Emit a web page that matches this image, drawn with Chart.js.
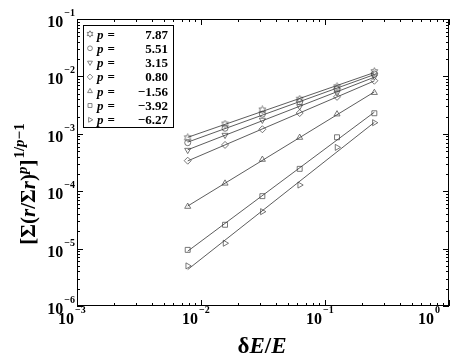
<!DOCTYPE html>
<html><head><meta charset="utf-8">
<script src="https://cdn.jsdelivr.net/npm/chart.js@4/dist/chart.umd.min.js"></script>
<style>html,body{margin:0;padding:0;background:#fff}</style>
</head><body>
<canvas id="c" width="463" height="363" style="width:463px;height:363px;display:block"></canvas>
<script>
// ---- data ----
const xValues = [0.0078125, 0.015625, 0.03125, 0.0625, 0.125, 0.25];
const pLabels = ['7.87', '5.51', '3.15', '0.80', '\u22121.56', '\u22123.92', '\u22126.27'];
const yP787  = [8.5e-4, 1.48e-3, 2.6e-3, 4.0e-3, 6.6e-3, 1.21e-2];
const yP551  = [7.0e-4, 1.25e-3, 2.2e-3, 3.6e-3, 6.0e-3, 1.10e-2];
const yP315  = [5.2e-4, 9.5e-4, 1.74e-3, 3.0e-3, 5.2e-3, 9.9e-3];
const yP080  = [3.4e-4, 6.4e-4, 1.2e-3, 2.3e-3, 4.4e-3, 8.4e-3];
const yPm156 = [5.4e-5, 1.37e-4, 3.56e-4, 8.6e-4, 2.2e-3, 5.2e-3];
const yPm392 = [9.5e-6, 2.6e-5, 8.2e-5, 2.45e-4, 8.7e-4, 2.28e-3];
const yPm627 = [5.0e-6, 1.24e-5, 4.4e-5, 1.28e-4, 5.8e-4, 1.56e-3];
const xTickValues = [1e-3, 1e-2, 1e-1, 1];
const xTickExps = ['\u22123', '\u22122', '\u22121', '0'];
const yTickValues = [1e-6, 1e-5, 1e-4, 1e-3, 1e-2, 1e-1];
const yTickExps = ['\u22126', '\u22125', '\u22124', '\u22123', '\u22122', '\u22121'];

// ---- marker: six-pointed star ----
function makeStar(ro, ri, size) {
  const c = document.createElement('canvas');
  c.width = size; c.height = size;
  const g = c.getContext('2d');
  g.strokeStyle = '#555'; g.lineWidth = 0.8;
  g.beginPath();
  const m = size / 2;
  for (let i = 0; i < 12; i++) {
    const r = i % 2 === 0 ? ro : ri;
    const a = -Math.PI / 2 + i * Math.PI / 6;
    const px = m + r * Math.cos(a), py = m + r * Math.sin(a);
    if (i === 0) g.moveTo(px, py); else g.lineTo(px, py);
  }
  g.closePath(); g.stroke();
  return c;
}
const starImg = makeStar(3.8, 2.1, 9);
const starLegend = makeStar(3.2, 1.8, 8);

const seriesList = [
  { y: yP787,  style: starImg,    rot: 0,   r: 4 },
  { y: yP551,  style: 'circle',   rot: 0,   r: 3 },
  { y: yP315,  style: 'triangle', rot: 180, r: 3.5 },
  { y: yP080,  style: 'rectRot',  rot: 0,   r: 3.5 },
  { y: yPm156, style: 'triangle', rot: 0,   r: 3.5 },
  { y: yPm392, style: 'rect',     rot: 0,   r: 3.5 },
  { y: yPm627, style: 'triangle', rot: 90,  r: 3.5 }
];

function fitLine(ys) {
  const lx = xValues.map(Math.log10), ly = ys.map(Math.log10);
  const n = lx.length;
  const mx = lx.reduce((a, b) => a + b, 0) / n, my = ly.reduce((a, b) => a + b, 0) / n;
  let sxy = 0, sxx = 0;
  for (let i = 0; i < n; i++) { sxy += (lx[i] - mx) * (ly[i] - my); sxx += (lx[i] - mx) ** 2; }
  const s = sxy / sxx, b = my - s * mx;
  return [lx[0], lx[n - 1]].map(v => ({ x: 10 ** v, y: 10 ** (b + s * v) }));
}

const datasets = [];
seriesList.forEach(s => {
  datasets.push({
    type: 'line', data: fitLine(s.y), borderColor: '#333', borderWidth: 0.8,
    pointRadius: 0, fill: false, tension: 0
  });
  datasets.push({
    type: 'scatter', data: xValues.map((x, j) => ({ x: x, y: s.y[j] })),
    pointStyle: s.style, rotation: s.rot, pointRadius: s.r,
    borderColor: '#555', backgroundColor: 'rgba(0,0,0,0)', borderWidth: 0.8, showLine: false
  });
});

const SERIF = '"Liberation Serif", "Times New Roman", serif';

function drawPieces(ctx, pieces, x, baseY) {
  pieces.forEach(p => {
    ctx.font = p.font;
    ctx.fillText(p.t, x, baseY - (p.up || 0));
    x += ctx.measureText(p.t).width + (p.gap || 0);
  });
  return x;
}
function piecesWidth(ctx, pieces) {
  let w = 0;
  pieces.forEach(p => { ctx.font = p.font; w += ctx.measureText(p.t).width + (p.gap || 0); });
  return w;
}

const decor = {
  id: 'decor',
  afterDraw(chart) {
    const ctx = chart.ctx, a = chart.chartArea;
    const xs = chart.scales.x, ys = chart.scales.y;
    ctx.save();
    ctx.strokeStyle = '#000'; ctx.lineWidth = 1;
    ctx.strokeRect(a.left + 0.5, a.top + 0.5, a.right - a.left - 1, a.bottom - a.top - 1);
    // ticks
    ctx.beginPath();
    for (let d = -3; d <= 0; d++) {
      for (let k = 1; k <= 9; k++) {
        const v = k * 10 ** d;
        if (v > 1.0000001) break;
        const px = Math.round(xs.getPixelForValue(v)) + 0.5;
        const len = k === 1 ? 6 : 3;
        ctx.moveTo(px, a.bottom); ctx.lineTo(px, a.bottom - len);
        ctx.moveTo(px, a.top); ctx.lineTo(px, a.top + len);
      }
    }
    for (let d = -6; d <= -1; d++) {
      for (let k = 1; k <= 9; k++) {
        const v = k * 10 ** d;
        if (v > 0.1000001) break;
        const py = Math.round(ys.getPixelForValue(v)) + 0.5;
        const len = k === 1 ? 6 : 3;
        ctx.moveTo(a.left, py); ctx.lineTo(a.left + len, py);
        ctx.moveTo(a.right, py); ctx.lineTo(a.right - len, py);
      }
    }
    ctx.stroke();

    ctx.fillStyle = '#000';
    ctx.textBaseline = 'alphabetic';
    const bigF = 'bold 16px ' + SERIF, supF = 'bold 10px ' + SERIF;
    // x tick labels
    xTickValues.forEach((v, i) => {
      const px = xs.getPixelForValue(v);
      ctx.font = bigF; const w10 = ctx.measureText('10').width;
      ctx.font = supF; const ws = ctx.measureText(xTickExps[i]).width;
      let left = px - 3 - w10;
      if (left + w10 + 1 + ws > 440) left = 440 - (w10 + 1 + ws);
      ctx.font = bigF; ctx.fillText('10', left, 324);
      ctx.font = supF; ctx.fillText(xTickExps[i], left + w10 + 1, 313);
    });
    // y tick labels
    yTickValues.forEach((v, i) => {
      const py = ys.getPixelForValue(v);
      ctx.font = supF; const ws = ctx.measureText(yTickExps[i]).width;
      const supLeft = a.left - 2 - ws;
      ctx.fillText(yTickExps[i], supLeft, py - 3);
      ctx.font = bigF; const w10 = ctx.measureText('10').width;
      ctx.fillText('10', supLeft - 1 - w10, py + 8);
    });

    // x title
    const B = 'bold 23px ' + SERIF, BI = 'italic bold 23px ' + SERIF;
    const xt = [{ t: '\u03B4', font: B }, { t: 'E', font: BI }, { t: '/', font: B }, { t: 'E', font: BI }];
    const xw = piecesWidth(ctx, xt);
    drawPieces(ctx, xt, 262 - xw / 2, 353);

    // y title
    const M = 'bold 21px ' + SERIF, MI = 'italic bold 21px ' + SERIF;
    const S = 'bold 15px ' + SERIF, SI = 'italic bold 15px ' + SERIF;
    const yt = [
      { t: '[\u03A3(', font: M }, { t: 'r', font: MI }, { t: '/\u03A3', font: M }, { t: 'r', font: MI },
      { t: ')', font: M }, { t: 'p', font: SI, up: 8 }, { t: ']', font: M, gap: 1 },
      { t: '1/', font: S, up: 11 }, { t: 'p', font: SI, up: 11 }, { t: '\u22121', font: S, up: 11 }
    ];
    const yw = piecesWidth(ctx, yt);
    ctx.save();
    ctx.translate(35, 184);
    ctx.rotate(-Math.PI / 2);
    drawPieces(ctx, yt, -yw / 2, 0);
    ctx.restore();

    // legend
    ctx.lineWidth = 1; ctx.strokeStyle = '#000';
    ctx.strokeRect(83.5, 25.5, 90, 102);
    const LF = 'bold 13px ' + SERIF, LFI = 'italic bold 13px ' + SERIF;
    seriesList.forEach((s, i) => {
      const cy = 34 + i * 14.3;
      const st = s.style === starImg ? starLegend : s.style;
      ctx.save();
      ctx.strokeStyle = '#666'; ctx.fillStyle = 'rgba(0,0,0,0)'; ctx.lineWidth = 0.8;
      Chart.helpers.drawPoint(ctx, { pointStyle: st, rotation: s.rot, radius: s.r * 0.8, borderWidth: 0.8 }, 90, cy);
      ctx.restore();
      ctx.fillStyle = '#000';
      ctx.font = LFI; ctx.fillText('p', 97, cy + 4.5);
      ctx.font = LF; ctx.fillText('=', 107.5, cy + 4.5);
      ctx.textAlign = 'right'; ctx.fillText(pLabels[i], 168, cy + 4.5);
      ctx.textAlign = 'left';
    });
    ctx.restore();
  }
};

new Chart(document.getElementById('c'), {
  type: 'scatter',
  data: { datasets: datasets },
  options: {
    responsive: false, animation: false, devicePixelRatio: 1,
    layout: { padding: { left: 77, top: 19, right: 14, bottom: 57 } },
    scales: {
      x: { type: 'logarithmic', min: 1e-3, max: 1, display: false },
      y: { type: 'logarithmic', min: 1e-6, max: 1e-1, display: false }
    },
    plugins: { legend: { display: false }, tooltip: { enabled: false } }
  },
  plugins: [decor]
});
</script>
</body></html>
